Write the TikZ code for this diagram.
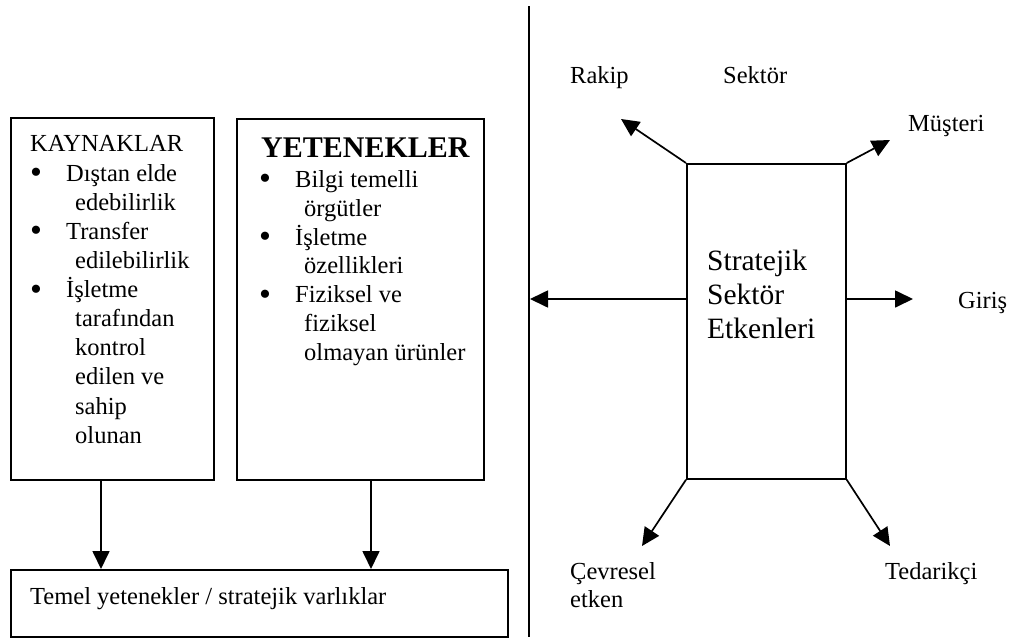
\documentclass[tikz,border=0pt]{standalone}
\usepackage{fontspec}
\setmainfont{Liberation Serif}
\usetikzlibrary{arrows.meta}
\newcommand\listbullet{\makebox[36pt][l]{\raisebox{-2.5pt}{\fontsize{34}{34}\selectfont\textbullet}}}
\begin{document}
\begin{tikzpicture}[x=1pt,y=-1pt,
  box/.style={draw, line width=1.7pt, inner sep=0pt, anchor=north west},
  arr/.style={line width=1.7pt, -{Triangle[length=18pt,width=17pt]}},
  lbl/.style={anchor=base west, inner sep=0pt, font=\fontsize{24.5}{29}\selectfont},
  listtext/.style={anchor=north west, inner sep=0pt, align=left},
  bigtext/.style={anchor=north west, inner sep=0pt, align=left, font=\fontsize{29.5}{34}\selectfont}]
\useasboundingbox (0,0) rectangle (1019,637);

% resources / capabilities boxes
\node[box, minimum width=203pt, minimum height=362pt] (kay) at (10,117) {};
\node[box, minimum width=247pt, minimum height=361pt] (yet) at (236,118) {};
\node[box, minimum width=497pt, minimum height=67pt] (temel) at (10,569) {};

\node[lbl] (kayhead) at (30,151) {KAYNAKLAR};
\node[listtext, font=\fontsize{24.5}{29.1}\selectfont] (kaylist) at (30,161) {%
  \rule{0pt}{20pt}\listbullet Dıştan elde\\
  \hspace*{45pt}edebilirlik\\
  \listbullet Transfer\\
  \hspace*{45pt}edilebilirlik\\
  \listbullet İşletme\\
  \hspace*{45pt}tarafından\\
  \hspace*{45pt}kontrol\\
  \hspace*{45pt}edilen ve\\
  \hspace*{45pt}sahip\\
  \hspace*{45pt}olunan};

\node[anchor=base west, inner sep=0pt, font=\fontsize{30}{30}\selectfont\bfseries] (yethead) at (261,157) {YETENEKLER};
\node[listtext, font=\fontsize{24.5}{28.9}\selectfont] (yetlist) at (259,167) {%
  \rule{0pt}{20pt}\listbullet Bilgi temelli\\
  \hspace*{45pt}örgütler\\
  \listbullet İşletme\\
  \hspace*{45pt}özellikleri\\
  \listbullet Fiziksel ve\\
  \hspace*{45pt}fiziksel\\
  \hspace*{45pt}olmayan ürünler};

\node[lbl] (temeltext) at (30,604) {Temel yetenekler / stratejik varlıklar};

\coordinate (kx) at (101,0);
\coordinate (yx) at (371,0);
\draw[arr] (kay.south -| kx) -- (temel.north -| kx);
\draw[arr] (yet.south -| yx) -- (temel.north -| yx);

% dividing line
\coordinate (divtop) at (529,6);
\coordinate (divbot) at (529,637);
\draw[line width=1.7pt] (divtop) -- (divbot);

% strategic sector factors
\node[box, minimum width=159pt, minimum height=315pt] (ske) at (686,163) {};
\node[bigtext] (sketext) at (707,248) {\rule{0pt}{22pt}Stratejik\\Sektör\\Etkenleri};

\coordinate (rakipend) at (621,119);
\coordinate (musteriend) at (890,140);
\coordinate (leftend) at (530,299);
\coordinate (girisend) at (913,299);
\coordinate (cevreend) at (642,546);
\coordinate (tedarikend) at (890,546);

\draw[arr] (ske.north west) -- (rakipend);
\draw[arr] (ske.north east) -- (musteriend);
\draw[arr] (ske.west |- leftend) -- (leftend);
\draw[arr] (ske.east |- girisend) -- (girisend);
\draw[arr] (ske.south west) -- (cevreend);
\draw[arr] (ske.south east) -- (tedarikend);

\node[lbl] (rakip) at (570,83) {Rakip};
\node[lbl] (sektor) at (723,83) {Sektör};
\node[lbl] (musteri) at (908,131) {Müşteri};
\node[lbl] (giris) at (958,308) {Giriş};
\node[listtext, font=\fontsize{24.5}{28}\selectfont] (cevre) at (570,559) {\rule{0pt}{20pt}Çevresel\\etken};
\node[lbl] (tedarik) at (885,579) {Tedarikçi};
\end{tikzpicture}
\end{document}
